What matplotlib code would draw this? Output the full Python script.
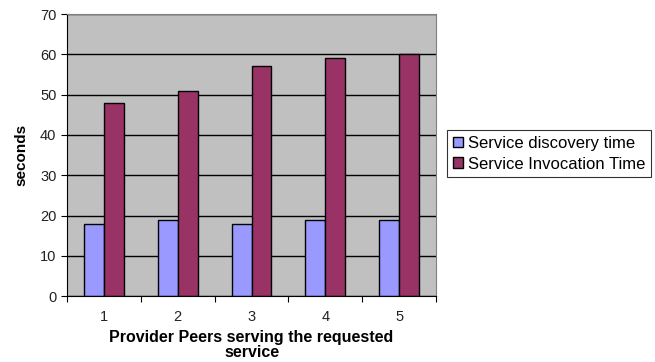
import matplotlib
matplotlib.use("Agg")
import matplotlib.pyplot as plt
import numpy as np

plt.rcParams['font.family'] = ['Liberation Sans', 'DejaVu Sans']

# Data
PEERS = [1, 2, 3, 4, 5]
DISCOVERY = [18, 19, 18, 19, 19]
INVOCATION = [48, 51, 57, 59, 60]

fig = plt.figure(figsize=(6.55, 3.62), dpi=100)
ax = fig.add_axes([0.102, 0.182, 0.564, 0.779])

x = np.array(PEERS)
w = 0.27
ax.set_axisbelow(True)
ax.bar(x - w / 2, DISCOVERY, width=w, color='#9999FF', edgecolor='black',
       linewidth=1, label='Service discovery time')
ax.bar(x + w / 2, INVOCATION, width=w, color='#993366', edgecolor='black',
       linewidth=1, label='Service Invocation Time')

# Plot formatting
ax.set_facecolor('#C0C0C0')
ax.set_xlim(0.5, 5.5)
ax.set_ylim(0, 70)
ax.set_yticks(range(0, 80, 10))
ax.yaxis.grid(True, color='black', linewidth=1)
ax.set_xticks(np.arange(0.5, 6, 1))
ax.set_xticklabels([])
ax.set_xticks(x, minor=True)
ax.set_xticklabels([str(p) for p in PEERS], minor=True)
ax.tick_params(axis='x', which='minor', length=0, pad=10, labelsize=10.5,
               labelcolor='#222222')
ax.tick_params(axis='x', which='major', length=4, direction='out')
ax.tick_params(axis='y', length=4, labelsize=10.5, labelcolor='#222222')
for side in ['top', 'right']:
    ax.spines[side].set_color('#808080')
ax.spines['left'].set_color('black')
ax.spines['bottom'].set_color('black')

ax.set_ylabel('seconds', fontweight='bold', fontsize=11, labelpad=8)
ax.set_xlabel('Provider Peers serving the requested\nservice',
              fontweight='bold', fontsize=11.5, labelpad=4, linespacing=1.0)

leg = fig.legend(loc='upper left', bbox_to_anchor=(0.682, 0.641),
                 fontsize=12, frameon=True, fancybox=False, edgecolor='black',
                 handlelength=0.6, handleheight=0.6, handletextpad=0.3,
                 borderpad=0.35, labelspacing=0.35, borderaxespad=0)
leg.get_frame().set_linewidth(0.8)

fig.savefig('out.png', dpi=100)
